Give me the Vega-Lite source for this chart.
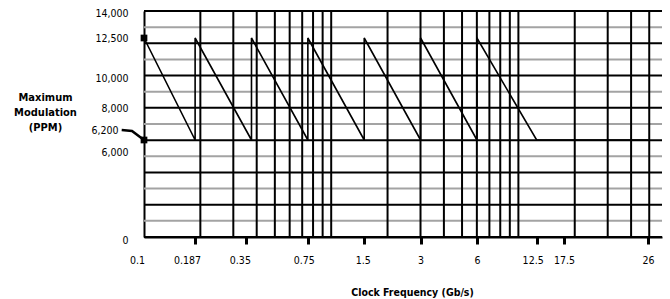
{
  "$schema": "https://vega.github.io/schema/vega-lite/v6.json",
  "width": 518,
  "height": 226,
  "autosize": {"type": "none"},
  "padding": {"left": 144, "top": 11, "right": 8, "bottom": 62},
  "background": "white",
  "config": {"view": {"stroke": null}, "axis": {"labelOverlap": false}},
  "datasets": {
    "hgrid": [
      {"g": 1, "kind": "minor"}, {"g": 3, "kind": "minor"}, {"g": 5, "kind": "minor"}, {"g": 7, "kind": "minor"},
      {"g": 9, "kind": "minor"}, {"g": 11, "kind": "minor"}, {"g": 13, "kind": "minor"},
      {"g": 0, "kind": "major"}, {"g": 2, "kind": "major"}, {"g": 4, "kind": "major"}, {"g": 6, "kind": "major"},
      {"g": 8, "kind": "major"}, {"g": 10, "kind": "major"}, {"g": 12, "kind": "major"}, {"g": 14, "kind": "major"}
    ],
    "vgrid": [
      {"f": 0.2}, {"f": 0.3}, {"f": 0.4}, {"f": 0.5}, {"f": 0.6}, {"f": 0.7}, {"f": 0.8}, {"f": 0.9}, {"f": 1},
      {"f": 2}, {"f": 3}, {"f": 4}, {"f": 5}, {"f": 6}, {"f": 7}, {"f": 8}, {"f": 9}, {"f": 10},
      {"f": 20}, {"f": 30}, {"f": 40}, {"f": 50}
    ],
    "saw": [
      {"i": 0, "freq": 0.1, "ppm": 12500},
      {"i": 1, "freq": 0.1875, "ppm": 6200},
      {"i": 2, "freq": 0.1875, "ppm": 12500},
      {"i": 3, "freq": 0.375, "ppm": 6200},
      {"i": 4, "freq": 0.375, "ppm": 12500},
      {"i": 5, "freq": 0.75, "ppm": 6200},
      {"i": 6, "freq": 0.75, "ppm": 12500},
      {"i": 7, "freq": 1.5, "ppm": 6200},
      {"i": 8, "freq": 1.5, "ppm": 12500},
      {"i": 9, "freq": 3, "ppm": 6200},
      {"i": 10, "freq": 3, "ppm": 12500},
      {"i": 11, "freq": 6, "ppm": 6200},
      {"i": 12, "freq": 6, "ppm": 12500},
      {"i": 13, "freq": 12.5, "ppm": 6200},
      {"i": 14, "freq": 26, "ppm": 6200}
    ],
    "markers": [
      {"i": 0, "freq": 0.1, "ppm": 12500},
      {"i": 1, "freq": 0.1, "ppm": 6200}
    ],
    "leader": [
      {"i": 0, "freq": 0.076, "ppm": 6760},
      {"i": 1, "freq": 0.0863, "ppm": 6710},
      {"i": 2, "freq": 0.1, "ppm": 6200}
    ]
  },
  "layer": [
    {
      "data": {"name": "hgrid"},
      "mark": {"type": "rule", "strokeWidth": 2},
      "encoding": {
        "y": {"field": "g", "type": "quantitative", "scale": {"domain": [0, 14], "nice": false, "zero": false}, "axis": null},
        "color": {"field": "kind", "type": "nominal", "scale": {"domain": ["major", "minor"], "range": ["#000000", "#a3a3a3"]}, "legend": null}
      }
    },
    {
      "data": {"name": "vgrid"},
      "mark": {"type": "rule", "strokeWidth": 2, "color": "#000000"},
      "encoding": {
        "x": {"field": "f", "type": "quantitative", "scale": {"type": "log", "domain": [0.1, 58.5], "nice": false}, "axis": null}
      }
    },
    {
      "encoding": {
        "x": {
          "field": "freq", "type": "quantitative",
          "scale": {"type": "log", "domain": [0.1, 17.5, 26, 28], "range": [0, 420, 504, 518], "nice": false},
          "axis": {
            "orient": "bottom",
            "values": [0.1, 0.187, 0.35, 0.75, 1.5, 3, 6, 12.5, 17.5, 26],
            "labelExpr": "'' + datum.value",
            "grid": false,
            "domain": true, "domainColor": "#000000", "domainWidth": 2,
            "ticks": true, "tickColor": "#000000", "tickWidth": 3, "tickSize": 7,
            "tickOpacity": {"condition": {"test": "datum.value === 0.1", "value": 0}, "value": 1},
            "labelOffset": {"condition": [
              {"test": "datum.value === 0.1", "value": -7},
              {"test": "datum.value === 0.187", "value": -8},
              {"test": "datum.value === 0.35", "value": -6},
              {"test": "datum.value === 0.75", "value": -4},
              {"test": "datum.value === 1.5", "value": -1.5},
              {"test": "datum.value === 12.5", "value": -4}
            ], "value": 0},
            "labelFont": "DejaVu Sans Condensed",
            "labelFontSize": 10.5, "labelColor": "#000000", "labelPadding": 11,
            "labelFlush": false, "labelOverlap": false,
            "title": "Clock Frequency (Gb/s)",
            "titleFont": "DejaVu Sans Condensed",
            "titleFontSize": 10.5, "titleFontWeight": "bold", "titleColor": "#000000",
            "titleX": 268, "titleY": 55, "titleBaseline": "middle", "titleAlign": "center"
          }
        },
        "y": {
          "field": "ppm", "type": "quantitative",
          "scale": {"domain": [0, 6000, 6200, 8000, 10000, 12500, 14000], "range": [226, 141, 129, 97, 67, 27, 0], "nice": false, "zero": false},
          "axis": {
            "orient": "left",
            "values": [0, 6000, 6200, 8000, 10000, 12500, 14000],
            "labelExpr": "format(datum.value, ',')",
            "grid": false, "ticks": false,
            "domain": true, "domainColor": "#000000", "domainWidth": 2,
            "labelFont": "DejaVu Sans Condensed",
            "labelFontSize": 10.5, "labelColor": "#000000",
            "labelPadding": {"condition": {"test": "datum.value === 6200", "value": 26}, "value": 16},
            "labelOffset": {"condition": [
              {"test": "datum.value === 6200", "value": -10},
              {"test": "datum.value === 14000", "value": 2},
              {"test": "datum.value === 0", "value": 3}
            ], "value": 0},
            "labelFlush": false, "labelOverlap": false, "labelBaseline": "middle",
            "title": ["Maximum", "Modulation", "(PPM)"],
            "titleFont": "DejaVu Sans Condensed",
            "titleFontSize": 11, "titleFontWeight": "bold", "titleColor": "#000000",
            "titleAngle": 0, "titleAlign": "center", "titleBaseline": "top",
            "titleX": -99, "titleY": 80, "titleLineHeight": 15
          }
        },
        "order": {"field": "i", "type": "quantitative"}
      },
      "layer": [
        {
          "data": {"name": "saw"},
          "mark": {"type": "line", "color": "#000000", "strokeWidth": 1.6, "clip": false}
        },
        {
          "data": {"name": "leader"},
          "mark": {"type": "line", "color": "#000000", "strokeWidth": 2.5, "clip": false}
        },
        {
          "data": {"name": "markers"},
          "mark": {"type": "point", "shape": "square", "filled": true, "size": 45, "color": "#000000", "opacity": 1, "clip": false}
        }
      ]
    }
  ],
  "resolve": {"scale": {"x": "independent", "y": "independent", "color": "independent"}}
}
